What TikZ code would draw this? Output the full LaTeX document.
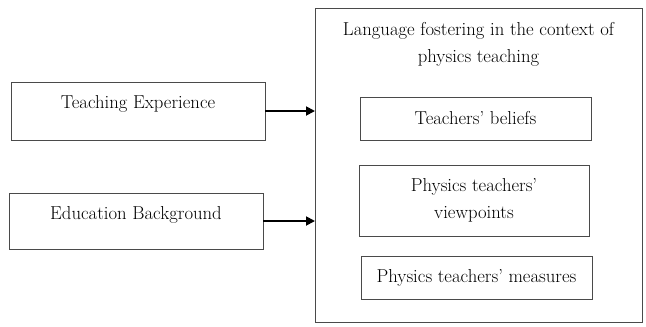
\documentclass[tikz,border=0pt]{standalone}
\usepackage{xcolor}
\definecolor{cLine}{HTML}{4A4A4A}
\definecolor{cText}{HTML}{000000}
\usepackage{tikz}
\usetikzlibrary{positioning,arrows.meta,calc}
\tikzset{
  node-box/.style={draw=cLine,line width=1pt,inner sep=0pt,outer sep=0pt},
  node-label/.style={text=cText,inner sep=0pt,align=center,
    font=\fontsize{18.7}{27}\selectfont},
  arrow/.style={-{Triangle[length=9pt,width=9pt]},line width=1.8pt,draw=black},
}
\begin{document}
\begin{tikzpicture}[x=1pt,y=1pt]
  \useasboundingbox (0,0) rectangle (646,-327);
  % left: the two inputs
  \node[node-box,minimum width=254pt,minimum height=58pt] (teach) at (138,-111) {};
  \node[node-label,anchor=base] (teach-txt) at ($(teach.north)+(0,-26)$) {Teaching Experience};
  \node[node-box,minimum width=254pt,minimum height=56pt] (edu) at (136,-221) {};
  \node[node-label,anchor=base] (edu-txt) at ($(edu.north)+(0,-26)$) {Education Background};
  % right: the outer frame and its three parts
  \node[node-box,minimum width=327pt,minimum height=314pt] (lang) at (478.5,-165) {};
  \node[node-label,anchor=north] (lang-txt) at ($(lang.north)+(0,-14)$)
    {Language fostering in the context of\\physics teaching};
  \node[node-box,node-label,minimum width=231pt,minimum height=43pt] (beliefs) at (475.5,-118.5)
    {Teachers' beliefs};
  \node[node-box,node-label,minimum width=230pt,minimum height=71pt] (views) at (474,-200.5)
    {Physics teachers'\\viewpoints};
  \node[node-box,node-label,minimum width=231pt,minimum height=43pt] (measures) at (476.5,-277.5)
    {Physics teachers' measures};
  \draw[arrow] (teach.east) -- (teach.east -| lang.west);
  \draw[arrow] (edu.east) -- (edu.east -| lang.west);
\end{tikzpicture}
\end{document}
